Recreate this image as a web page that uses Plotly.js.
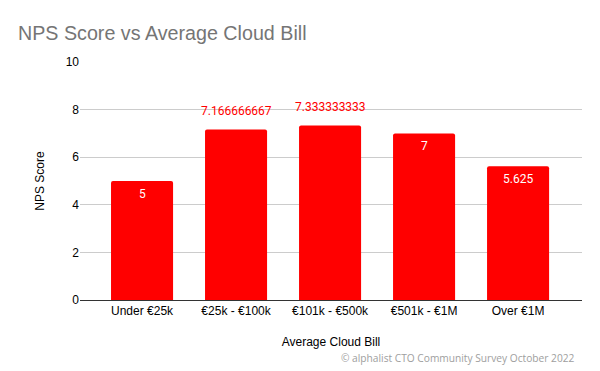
<!DOCTYPE html>
<html><head><meta charset="utf-8">
<script src="https://cdn.plot.ly/plotly-3.0.1.min.js"></script>
<style>html,body{margin:0;padding:0;background:#fff}#c{width:600px;height:371px}</style>
</head><body><div id="c"></div>
<script>
var categories = ["Under €25k", "€25k - €100k", "€101k - €500k", "€501k - €1M", "Over €1M"];
var npsValues = [5, 7.166666667, 7.333333333, 7, 5.625];
var valueLabels = ["5", "7.166666667", "7.333333333", "7", "5.625"];
var labelInside = [true, false, false, true, true];
var yTicks = [0, 2, 4, 6, 8, 10];

var annotations = categories.map(function(c, i){
  return {
    x: c, y: npsValues[i], xref: 'x', yref: 'y',
    text: valueLabels[i], showarrow: false,
    yanchor: labelInside[i] ? 'top' : 'bottom',
    yshift: labelInside[i] ? -4 : 9,
    font: {family: 'Roboto, sans-serif', size: 12, color: labelInside[i] ? '#ffffff' : '#ff0000'}
  };
});
annotations.push({
  x: 1, y: 0, xref: 'paper', yref: 'paper', xanchor: 'right', yanchor: 'top',
  yshift: -49, xshift: -5,
  text: '© alphalist CTO Community Survey October 2022', showarrow: false,
  font: {family: 'Open Sans, sans-serif', size: 10.2, color: '#9e9e9e'}
});

var trace = {
  type: 'bar', x: categories, y: npsValues,
  marker: {color: '#ff0000', cornerradius: 2},
  hoverinfo: 'none'
};

var layout = {
  width: 600, height: 371,
  margin: {l: 80, r: 18, t: 62, b: 71},
  paper_bgcolor: '#ffffff', plot_bgcolor: '#ffffff',
  bargap: 0.34,
  showlegend: false,
  title: {text: 'NPS Score vs Average Cloud Bill', x: 0.03, xanchor: 'left', y: 0.91, yanchor: 'middle',
          font: {family: 'Liberation Sans, Arial, sans-serif', size: 19.7, color: '#757575'}},
  xaxis: {
    title: {text: 'Average Cloud Bill', standoff: 20, font: {family: 'Liberation Sans, Arial, sans-serif', size: 12, color: '#000'}},
    tickfont: {family: 'Liberation Sans, Arial, sans-serif', size: 12, color: '#000'},
    range: [-0.66, 4.68],
    showline: true, linecolor: '#333333', linewidth: 1, ticks: '', showgrid: false
  },
  yaxis: {
    title: {text: 'NPS Score', standoff: 18, font: {family: 'Liberation Sans, Arial, sans-serif', size: 12, color: '#000'}},
    range: [0, 10], tickvals: yTicks, ticktext: yTicks.map(String),
    tickfont: {family: 'Liberation Sans, Arial, sans-serif', size: 12, color: '#000'},
    gridcolor: '#cccccc', zeroline: false, ticks: '', ticklen: 0, showline: false
  },
  annotations: annotations
};
Plotly.newPlot('c', [trace], layout, {displayModeBar: false, staticPlot: true});
</script></body></html>
